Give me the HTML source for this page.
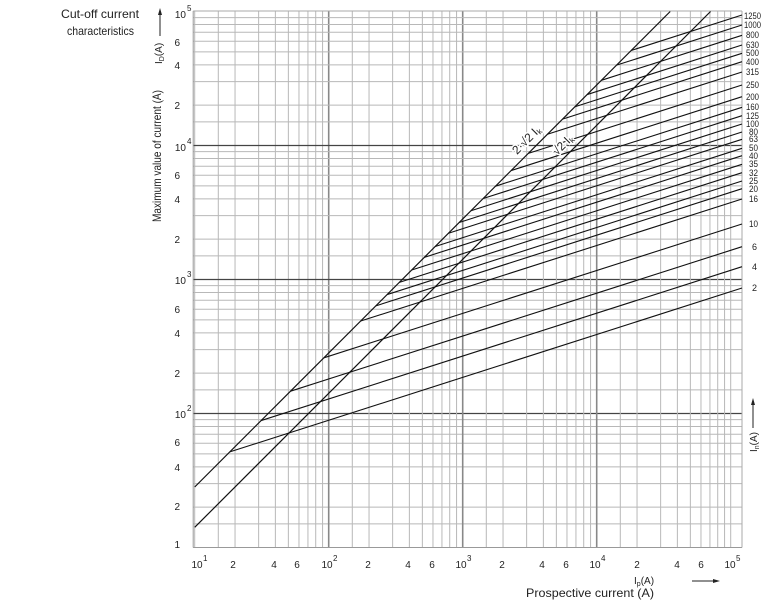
<!DOCTYPE html>
<html><head><meta charset="utf-8"><style>
html,body{margin:0;padding:0;background:#fff;}
svg{display:block;}
text{font-family:"Liberation Sans",sans-serif;fill:#222;}
</style></head><body>
<svg id="s" width="762" height="600" viewBox="0 0 762 600" xmlns="http://www.w3.org/2000/svg">
<g id="grid"></g>
<g id="curves"></g>
<g font-size="11">
<text x="61" y="18" font-size="12" textLength="78" lengthAdjust="spacingAndGlyphs">Cut-off current</text>
<text x="67" y="35" font-size="12" textLength="67" lengthAdjust="spacingAndGlyphs">characteristics</text>
<text transform="translate(161,156) rotate(-90)" text-anchor="middle" font-size="12" textLength="132" lengthAdjust="spacingAndGlyphs">Maximum value of current (A)</text>
<text transform="translate(162,64) rotate(-90)" font-size="10">I<tspan font-size="7" dy="2">D</tspan><tspan dy="-2">(A)</tspan></text>
<line x1="160" y1="36" x2="160" y2="12" stroke="#222" stroke-width="1"/>
<polygon points="160,8 158,15 162,15" fill="#222"/>

<g font-size="10">
<text x="186" y="18" text-anchor="end">10</text><text x="187" y="11" font-size="8">5</text>
<text x="180" y="46" text-anchor="end">6</text>
<text x="180" y="69" text-anchor="end">4</text>
<text x="180" y="109" text-anchor="end">2</text>
<text x="186" y="151" text-anchor="end">10</text><text x="187" y="144" font-size="8">4</text>
<text x="180" y="179" text-anchor="end">6</text>
<text x="180" y="203" text-anchor="end">4</text>
<text x="180" y="243" text-anchor="end">2</text>
<text x="186" y="284" text-anchor="end">10</text><text x="187" y="277" font-size="8">3</text>
<text x="180" y="313" text-anchor="end">6</text>
<text x="180" y="337" text-anchor="end">4</text>
<text x="180" y="377" text-anchor="end">2</text>
<text x="186" y="418" text-anchor="end">10</text><text x="187" y="411" font-size="8">2</text>
<text x="180" y="446" text-anchor="end">6</text>
<text x="180" y="471" text-anchor="end">4</text>
<text x="180" y="510" text-anchor="end">2</text>
<text x="180" y="548" text-anchor="end">1</text>

<text x="197" y="568" text-anchor="middle">10</text><text x="203" y="561" font-size="8">1</text>
<text x="233" y="568" text-anchor="middle">2</text>
<text x="274" y="568" text-anchor="middle">4</text>
<text x="297" y="568" text-anchor="middle">6</text>
<text x="327" y="568" text-anchor="middle">10</text><text x="333" y="561" font-size="8">2</text>
<text x="368" y="568" text-anchor="middle">2</text>
<text x="408" y="568" text-anchor="middle">4</text>
<text x="432" y="568" text-anchor="middle">6</text>
<text x="461" y="568" text-anchor="middle">10</text><text x="467" y="561" font-size="8">3</text>
<text x="502" y="568" text-anchor="middle">2</text>
<text x="542" y="568" text-anchor="middle">4</text>
<text x="566" y="568" text-anchor="middle">6</text>
<text x="595" y="568" text-anchor="middle">10</text><text x="601" y="561" font-size="8">4</text>
<text x="637" y="568" text-anchor="middle">2</text>
<text x="677" y="568" text-anchor="middle">4</text>
<text x="701" y="568" text-anchor="middle">6</text>
<text x="730" y="568" text-anchor="middle">10</text><text x="736" y="561" font-size="8">5</text>
</g>

<text x="590" y="597" text-anchor="middle" font-size="12" textLength="128" lengthAdjust="spacingAndGlyphs">Prospective current (A)</text>
<text x="634" y="584" font-size="10">I<tspan font-size="7" dy="2">p</tspan><tspan dy="-2">(A)</tspan></text>
<line x1="692" y1="581" x2="714" y2="581" stroke="#222"/>
<polygon points="720,581 713,579 713,583" fill="#222"/>

<text transform="translate(757,452) rotate(-90)" font-size="10">I<tspan font-size="7" dy="2">n</tspan><tspan dy="-2">(A)</tspan></text>
<line x1="753" y1="428" x2="753" y2="404" stroke="#222"/>
<polygon points="753,398 751,405 755,405" fill="#222"/>

<g font-size="9" lengthAdjust="spacingAndGlyphs">
<text x="744" y="19" textLength="17" lengthAdjust="spacingAndGlyphs">1250</text>
<text x="744" y="28" textLength="17" lengthAdjust="spacingAndGlyphs">1000</text>
<text x="746" y="38" textLength="13" lengthAdjust="spacingAndGlyphs">800</text>
<text x="746" y="48" textLength="13" lengthAdjust="spacingAndGlyphs">630</text>
<text x="746" y="56" textLength="13" lengthAdjust="spacingAndGlyphs">500</text>
<text x="746" y="65" textLength="13" lengthAdjust="spacingAndGlyphs">400</text>
<text x="746" y="75" textLength="13" lengthAdjust="spacingAndGlyphs">315</text>
<text x="746" y="88" textLength="13" lengthAdjust="spacingAndGlyphs">250</text>
<text x="746" y="100" textLength="13" lengthAdjust="spacingAndGlyphs">200</text>
<text x="746" y="110" textLength="13" lengthAdjust="spacingAndGlyphs">160</text>
<text x="746" y="119" textLength="13" lengthAdjust="spacingAndGlyphs">125</text>
<text x="746" y="127" textLength="13" lengthAdjust="spacingAndGlyphs">100</text>
<text x="749" y="135" textLength="9" lengthAdjust="spacingAndGlyphs">80</text>
<text x="749" y="142" textLength="9" lengthAdjust="spacingAndGlyphs">63</text>
<text x="749" y="151" textLength="9" lengthAdjust="spacingAndGlyphs">50</text>
<text x="749" y="159" textLength="9" lengthAdjust="spacingAndGlyphs">40</text>
<text x="749" y="167" textLength="9" lengthAdjust="spacingAndGlyphs">35</text>
<text x="749" y="176" textLength="9" lengthAdjust="spacingAndGlyphs">32</text>
<text x="749" y="184" textLength="9" lengthAdjust="spacingAndGlyphs">25</text>
<text x="749" y="192" textLength="9" lengthAdjust="spacingAndGlyphs">20</text>
<text x="749" y="202" textLength="9" lengthAdjust="spacingAndGlyphs">16</text>
<text x="749" y="227" textLength="9" lengthAdjust="spacingAndGlyphs">10</text>
<text x="752" y="250">6</text>
<text x="752" y="270">4</text>
<text x="752" y="291">2</text>
</g>
<text transform="translate(517,155) rotate(-45)" font-size="12" style="paint-order:stroke" stroke="#fff" stroke-width="3">2·√2 I<tspan font-size="8" dy="2">k</tspan></text>
<text transform="translate(557,156) rotate(-45)" font-size="12" style="paint-order:stroke" stroke="#fff" stroke-width="3">√2 I<tspan font-size="8" dy="2">k</tspan></text>
</svg>
<script>
(function(){
var NS="http://www.w3.org/2000/svg";
var X0=194.7,Y0=547.5,D=134,XR=742,YT=11;
function px(l){return X0+D*(l-1);}
function py(l){return Y0-D*(l-1);}
function ln(g,x1,y1,x2,y2,c,w){var e=document.createElementNS(NS,"line");e.setAttribute("x1",x1);e.setAttribute("y1",y1);e.setAttribute("x2",x2);e.setAttribute("y2",y2);e.setAttribute("stroke",c);e.setAttribute("stroke-width",w);g.appendChild(e);}
var g=document.getElementById("grid"),c=document.getElementById("curves");
var m=[1,1.5,2,3,4,5,6,7,8,9];
for(var d=1;d<=5;d++){for(var i=0;i<m.length;i++){var l=d+Math.log10(m[i]);
 var x=px(l);if(x<=XR+0.5){var major=(i==0&&d>1&&d<5);ln(g,x,YT,x,Y0,major?"#888":"#b8b8b8",major?1.6:1);}
 var y=py(l);if(y>=YT-0.5&&d<5){var maj=(i==0&&d>1);ln(g,X0-1.5,y,XR,y,maj?"#444":"#b8b8b8",maj?1.3:1);}
}}
ln(g,X0-1.5,YT,X0-1.5,Y0,"#999",1);ln(g,X0-1.5,Y0,XR,Y0,"#999",1);ln(g,XR,YT,XR,Y0,"#aaa",1);ln(g,X0-1.5,YT,XR,YT,"#aaa",1);
var k1=Math.log10(2*Math.SQRT2),k2=Math.log10(Math.SQRT2);
ln(c,px(1),py(1+k1),px(5-k1),py(5),"#111",1.2);
ln(c,px(1),py(1+k2),px(5-k2),py(5),"#111",1.2);
var ends=[15,25,35.3,45,53.3,61.7,72,85,96.7,107.3,115.7,124,132,139.3,148.3,155.7,164.3,172.7,181,188.7,199,224,246.7,266.7,288];
var Xe=1+(XR-X0)/D,s=0.32;
for(var j=0;j<ends.length;j++){var Ye=1+(Y0-ends[j])/D;
 var Xs=(Ye-k1-s*Xe)/(1-s);var Ys=Xs+k1;
 ln(c,px(Xs),py(Ys),XR,ends[j],"#111",1.1);}
})();
</script>
</body></html>
